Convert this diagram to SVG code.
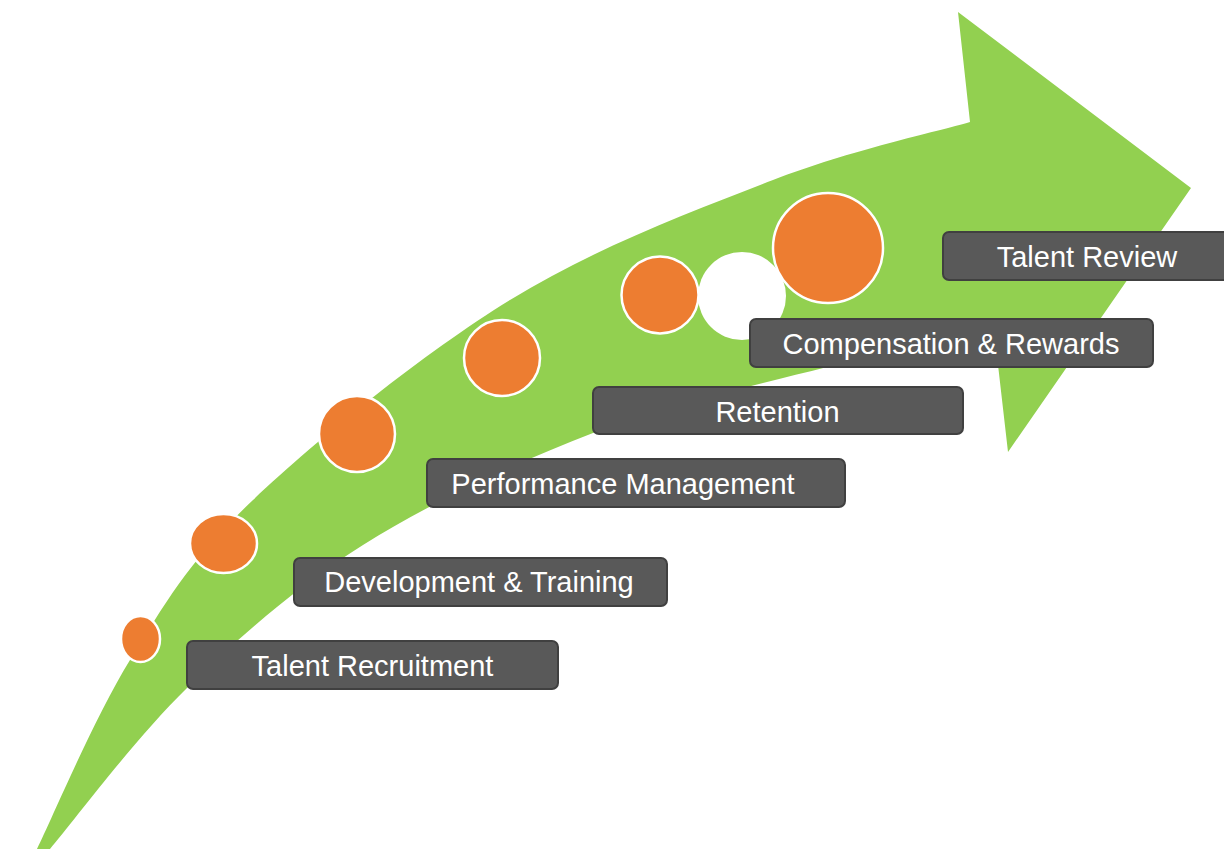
<svg xmlns="http://www.w3.org/2000/svg" width="1224" height="849" viewBox="0 0 1224 849">
<style>
.arrow{fill:#92D050}
.dot{fill:#ED7D31;stroke:#FFFFFF;stroke-width:2.5}
.blank{fill:#FFFFFF}
.box{fill:#595959;stroke:#404040;stroke-width:2}
.lbl{font-family:"Liberation Sans",Arial,sans-serif;font-size:29px;fill:#FFFFFF;text-anchor:middle}
</style>
<rect width="1224" height="849" fill="#FFFFFF"/>
<g id="arrow">
<path class="arrow" d="M37,849 C52.5,817.5 94,718.2 130,660 C166,601.8 189.7,560 253,500 C316.3,440 423.3,353.3 510,300 C596.7,246.7 696.3,209.7 773,180 C849.7,150.3 937.2,131.7 970,122 L958,12 L1191,188 L1008,452 L994,330 C966.2,336.2 893.8,349.8 827,367 C760.2,384.2 670.3,403.3 593,433 C515.7,462.7 430.7,502.5 363,545 C295.3,587.5 239.2,637.3 187,688 C134.8,738.7 72.8,822.2 50,849 Z"/>
</g>
<g id="circles">
<circle id="c6" class="blank" cx="742" cy="296" r="44"/>
<ellipse id="c1" class="dot" cx="140.5" cy="639" rx="19.5" ry="23"/>
<ellipse id="c2" class="dot" cx="223.5" cy="543.5" rx="33.5" ry="29.5"/>
<circle id="c3" class="dot" cx="357" cy="434" r="38"/>
<circle id="c4" class="dot" cx="502" cy="358" r="38"/>
<circle id="c5" class="dot" cx="660" cy="295" r="38.5"/>
<circle id="c7" class="dot" cx="828" cy="248" r="55"/>
</g>
<g id="n1"><rect class="box" x="187" y="641" width="371" height="48" rx="6"/><text class="lbl" x="372.5" y="676">Talent Recruitment</text></g>
<g id="n2"><rect class="box" x="294" y="558" width="373" height="48" rx="6"/><text class="lbl" x="479" y="592">Development &amp; Training</text></g>
<g id="n3"><rect class="box" x="427" y="459" width="418" height="48" rx="6"/><text class="lbl" x="623" y="494">Performance Management</text></g>
<g id="n4"><rect class="box" x="593" y="387" width="370" height="47" rx="6"/><text class="lbl" x="777.5" y="422">Retention</text></g>
<g id="n5"><rect class="box" x="750" y="319" width="403" height="48" rx="6"/><text class="lbl" x="951" y="354">Compensation &amp; Rewards</text></g>
<g id="n6"><rect class="box" x="943" y="232" width="292" height="48" rx="6"/><text class="lbl" x="1087" y="267">Talent Review</text></g>
<g id="connectors"/>
</svg>
